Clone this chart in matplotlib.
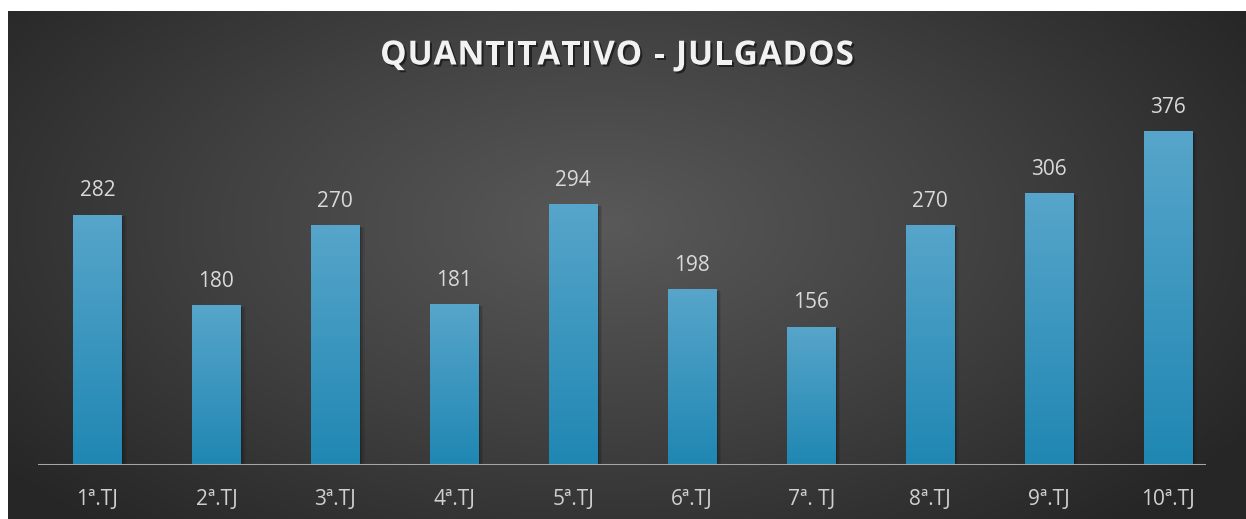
import numpy as np
import matplotlib.pyplot as plt
import matplotlib.patheffects as pe
from matplotlib.colors import LinearSegmentedColormap

categorias = ['1ª.TJ', '2ª.TJ', '3ª.TJ', '4ª.TJ', '5ª.TJ', '6ª.TJ', '7ª. TJ', '8ª.TJ', '9ª.TJ', '10ª.TJ']
julgados = [282, 180, 270, 181, 294, 198, 156, 270, 306, 376]
titulo = 'QUANTITATIVO - JULGADOS'

W, H = 1246, 519
fig = plt.figure(figsize=(W / 100, H / 100), dpi=100)
fig.patch.set_facecolor('white')

# dark radial background
bg = fig.add_axes([8 / W, 0, 1 - 8 / W, 1 - 11 / H])
bg.set_axis_off()
yy, xx = np.mgrid[0:1:300j, 0:1:700j]
r = np.sqrt(((xx - 0.48) / 0.62) ** 2 + ((yy - 0.42) / 0.8) ** 2)
r = np.clip(r, 0, 1)
bg_cmap = LinearSegmentedColormap.from_list('bg', ['#595959', '#414141', '#262626'])
bg.imshow(r, cmap=bg_cmap, aspect='auto', extent=[0, 1, 0, 1], vmin=0, vmax=1)
bg.set_xlim(0, 1)
bg.set_ylim(0, 1)

# main axes
left, right = 38 / W, 1227.5 / W
bottom, top = 1 - 465 / H, 1 - 110 / H
ax = fig.add_axes([left, bottom, right - left, top - bottom])
ax.set_facecolor('none')
for s in ax.spines.values():
    s.set_visible(False)
ax.set_yticks([])

x = np.arange(len(categorias))
largura = 0.41
bar_cmap = LinearSegmentedColormap.from_list('bar', ['#57a5ca', '#1f87b3'])
grad = np.linspace(0, 1, 256).reshape(-1, 1)

barras = ax.bar(x, julgados, width=largura, color='none', zorder=3)
for xi, b, v in zip(x, barras, julgados):
    # soft shadow to the right
    for k, a in zip([0.012, 0.025, 0.04], [0.18, 0.12, 0.07]):
        ax.add_patch(plt.Rectangle((xi - largura / 2 + k, 0), largura, v - 2,
                                   color='black', alpha=a, lw=0, zorder=2))
    im = ax.imshow(grad, cmap=bar_cmap, aspect='auto', zorder=3,
                   extent=[xi - largura / 2, xi + largura / 2, 0, v])
    im.set_clip_path(b)
    ax.text(xi, v + 15, str(v), ha='center', va='bottom', color='#d9d9d9',
            fontsize=15, family='Open Sans', zorder=4)

ax.set_xlim(-0.5, 9.5)
ax.set_ylim(0, 400)
ax.axhline(0, xmin=0, xmax=(1204 - 38) / (1227.5 - 38), color='#a6a6a6', lw=2.2, zorder=5)

ax.set_xticks(x)
ax.set_xticklabels(categorias, color='#d0d0d0', fontsize=15, family='Open Sans')
ax.tick_params(axis='x', length=0, pad=17)

# title with letter spacing
fig.canvas.draw()
rend = fig.canvas.get_renderer()
estilo = dict(color='#f2f2f2', fontsize=24, fontweight='bold', family='Open Sans',
              va='center', ha='left',
              path_effects=[pe.withSimplePatchShadow(offset=(1.5, -1.5), shadow_rgbFace='black', alpha=0.5)])
espaco = 0.8
larguras = []
for c in titulo:
    t = fig.text(0, 0, c if c != ' ' else 'n', **estilo)
    wpx = t.get_window_extent(rend).width
    if c == ' ':
        wpx *= 0.45
    larguras.append(wpx)
    t.remove()
total = sum(larguras) + espaco * (len(titulo) - 1)
xpos = 617 - total / 2
for c, wpx in zip(titulo, larguras):
    if c != ' ':
        fig.text(xpos / W, 1 - 56 / H, c, **estilo)
    xpos += wpx + espaco

fig.savefig('out.png', dpi=100, facecolor=fig.get_facecolor())
